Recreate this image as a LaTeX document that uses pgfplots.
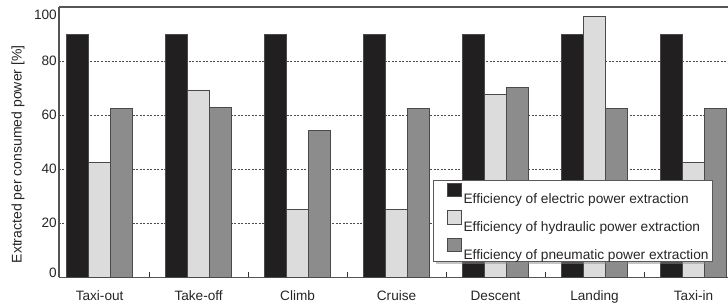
\documentclass[border=0pt]{standalone}
\usepackage{fontspec}
\setmainfont{Liberation Sans}
\usepackage{pgfplots}
\pgfplotsset{compat=1.18}
\usetikzlibrary{shadows}
\makeatletter
\tikzset{no preaction/.code={\let\tikz@preactions\pgfutil@empty}}
\makeatother
\definecolor{elec}{HTML}{221F20}
\definecolor{hyd}{HTML}{DCDCDC}
\definecolor{pneu}{HTML}{8C8C8C}
\definecolor{edge}{HTML}{4A4A4A}
\definecolor{axcol}{HTML}{555555}
\begin{document}
\begin{tikzpicture}
\begin{axis}[
  at={(0pt,0pt)}, anchor=south west,
  scale only axis, width=669pt, height=270.3pt,
  xmin=-0.41, xmax=6.348, ymin=0, ymax=100,
  axis x line*=bottom, axis y line*=left,
  axis line style={draw=axcol, line width=1.2pt},
  ybar, bar width=0.222,
  xtick={0,1,2,3,4,5,6},
  xticklabels={Taxi-out,Take-off,Climb,Cruise,Descent,Landing,Taxi-in},
  minor xtick={0.5,1.5,2.5,3.5,4.5,5.5},
  ytick={0,20,40,60,80,100},
  /pgf/number format/assume math mode=true,
  major tick length=0pt, minor tick length=5pt, tick align=inside,
  minor tick style={draw=black!80, line width=1pt},
  ymajorgrids,
  grid style={draw=black!70, line width=0.6pt, dash pattern=on 2pt off 1.5pt},
  tick label style={font=\fontsize{13.6}{16}\selectfont, text=black!85},
  xticklabel style={anchor=base, yshift=-23.7pt},
  yticklabel style={anchor=east, inner xsep=0pt, xshift=-2pt, yshift={(\ticknum==0)*4-(\ticknum==5)*8}},
  ylabel={Extracted per consumed power [\%]},
  ylabel style={at={(axis description cs:-0.0613,0.455)}, anchor=center, font=\fontsize{14}{16}\selectfont, text=black!85},
  legend cell align=left,
  legend image code/.code={\path (0pt,0pt); \draw[#1, no preaction, line width=0.8pt] (11pt,-1pt) rectangle (25pt,12.3pt);},
  legend style={at={(axis description cs:0.9776,0.058)}, anchor=south east,
    draw=black!65, line width=1pt, fill=white,
    drop shadow={shadow xshift=2.5pt, shadow yshift=-2.5pt, fill=black!45},
    font=\fontsize{13.7}{16}\selectfont, text=black!85, row sep=6.5pt, inner xsep=2pt, inner ysep=2pt,
    nodes={inner ysep=0pt, text height=17pt, text depth=0pt},
    /tikz/every odd column/.append style={column sep=0pt}},
]
\addplot[fill=elec, draw=edge, line width=0.8pt, bar shift=-0.222] coordinates {
  (0,90.0) (1,90.0) (2,90.0) (3,90.0) (4,90.0) (5,90.0) (6,90.0)};
\addplot[fill=hyd, draw=edge, line width=0.8pt, bar shift=0] coordinates {
  (0,42.6) (1,69.3) (2,25.0) (3,25.0) (4,67.7) (5,96.4) (6,42.6)};
\addplot[fill=pneu, draw=edge, line width=0.8pt, bar shift=0.222] coordinates {
  (0,62.6) (1,62.9) (2,54.2) (3,62.6) (4,70.3) (5,62.6) (6,62.6)};
\legend{Efficiency of electric power extraction,Efficiency of hydraulic power extraction,Efficiency of pneumatic power extraction}
\end{axis}
\draw[axcol, line width=1.2pt] (0pt,270.3pt) -- (669pt,270.3pt);
\pgfresetboundingbox
\useasboundingbox (-59pt,-29.7pt) rectangle (669pt,277.3pt);
\end{tikzpicture}
\end{document}
